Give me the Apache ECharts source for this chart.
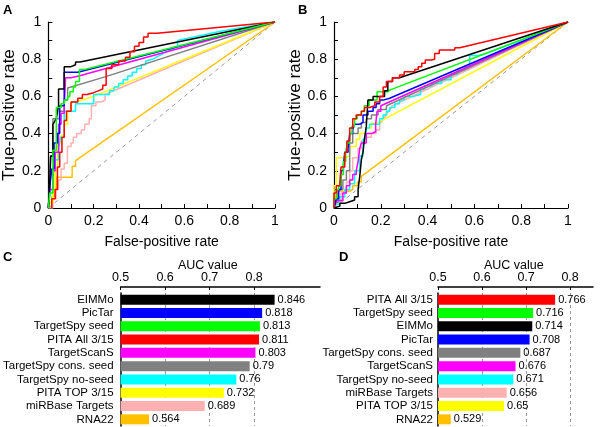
<!DOCTYPE html>
<html>
<head>
<meta charset="utf-8">
<script src="https://cdn.jsdelivr.net/npm/echarts@6.0.0/dist/echarts.min.js"></script>
<style>
  html, body { margin: 0; padding: 0; background: #fff; }
  #chart { width: 600px; height: 427px; }
</style>
</head>
<body>
<div id="chart"></div>
<script>
'use strict';

// Colours per prediction method (same in all four panels)
const methodColors = {
  'EIMMo': '#000000',
  'PicTar': '#0000ff',
  'TargetSpy seed': '#00ff00',
  'PITA All 3/15': '#ff0000',
  'TargetScanS': '#ff00ff',
  'TargetSpy cons. seed': '#808080',
  'TargetSpy no-seed': '#00ffff',
  'PITA TOP 3/15': '#ffff00',
  'miRBase Targets': '#ffb0b0',
  'RNA22': '#ffc000',
};

// --- panel C / D : AUC bars ---
const aucNamesC = ['EIMMo', 'PicTar', 'TargetSpy seed', 'PITA All 3/15', 'TargetScanS',
  'TargetSpy cons. seed', 'TargetSpy no-seed', 'PITA TOP 3/15', 'miRBase Targets', 'RNA22'];
const aucValuesC = [0.846, 0.818, 0.813, 0.811, 0.803, 0.79, 0.76, 0.732, 0.689, 0.564];
const aucNamesD = ['PITA All 3/15', 'TargetSpy seed', 'EIMMo', 'PicTar', 'TargetSpy cons. seed',
  'TargetScanS', 'TargetSpy no-seed', 'miRBase Targets', 'PITA TOP 3/15', 'RNA22'];
const aucValuesD = [0.766, 0.716, 0.714, 0.708, 0.687, 0.676, 0.671, 0.656, 0.65, 0.529];
const aucTicks = [0.5, 0.6, 0.7, 0.8];
const aucGridLines = [0.6, 0.7, 0.8];

// --- panel A : ROC curves [FPR, TPR] ---
const rocA_EIMMo = [[0, 0], [0.005, 0.1], [0.01, 0.28], [0.02, 0.28], [0.02, 0.45], [0.035, 0.48], [0.045, 0.55],
  [0.045, 0.64], [0.07, 0.64], [0.07, 0.76], [0.1, 0.76], [0.1, 0.77], [0.12, 0.77], [0.12, 0.785], [0.14, 0.785], [1, 1]];
const rocA_PicTar = [[0, 0], [0.005, 0.1], [0.015, 0.21], [0.025, 0.21], [0.025, 0.35], [0.04, 0.35], [0.04, 0.4],
  [0.05, 0.4], [0.05, 0.55], [0.07, 0.55], [0.07, 0.73], [0.13, 0.73], [1, 1]];
const rocA_TSpySeed = [[0, 0], [0.006, 0.08], [0.02, 0.08], [0.02, 0.31], [0.035, 0.31], [0.035, 0.54], [0.056, 0.54],
  [0.056, 0.56], [0.07, 0.56], [0.07, 0.58], [0.085, 0.58], [0.085, 0.6], [0.095, 0.6], [0.095, 0.625], [0.11, 0.625],
  [0.11, 0.65], [0.12, 0.65], [0.12, 0.68], [0.137, 0.68], [0.137, 0.745], [0.16, 0.745], [1, 1]];
const rocA_PitaAll = [[0.015, 0], [0.015, 0.05], [0.03, 0.05], [0.03, 0.1], [0.04, 0.1], [0.04, 0.22], [0.05, 0.22],
  [0.05, 0.3], [0.06, 0.3], [0.06, 0.38], [0.07, 0.38], [0.07, 0.47], [0.08, 0.47], [0.08, 0.52], [0.1, 0.52],
  [0.1, 0.57], [0.13, 0.57], [0.13, 0.59], [0.15, 0.59], [0.15, 0.61], [0.17, 0.61], [0.17, 0.62], [0.2, 0.62],
  [0.2, 0.63], [0.22, 0.63], [0.22, 0.64], [0.24, 0.64], [0.24, 0.66], [0.255, 0.66], [0.255, 0.75], [0.28, 0.75],
  [0.28, 0.77], [0.31, 0.77], [0.31, 0.79], [0.34, 0.79], [0.34, 0.81], [0.36, 0.81], [0.36, 0.84], [0.38, 0.84],
  [0.38, 0.87], [0.4, 0.87], [0.4, 0.89], [0.42, 0.89], [0.42, 0.92], [0.44, 0.92], [0.44, 0.94], [0.48, 0.94], [1, 1]];
const rocA_TScanS = [[0, 0], [0.005, 0.1], [0.02, 0.1], [0.02, 0.2], [0.03, 0.2], [0.03, 0.3], [0.045, 0.3],
  [0.045, 0.45], [0.056, 0.45], [0.056, 0.51], [0.07, 0.51], [0.07, 0.545], [0.076, 0.545], [0.076, 0.7],
  [0.1, 0.7], [0.1, 0.71], [0.134, 0.71], [1, 1]];
const rocA_TSpyCons = [[0, 0], [0.005, 0.07], [0.01, 0.28], [0.02, 0.28], [0.02, 0.48], [0.049, 0.48], [0.049, 0.52],
  [0.07, 0.52], [0.07, 0.58], [0.085, 0.58], [0.085, 0.645], [0.25, 0.705], [1, 1]];
const rocA_TSpyNoSeed = [[0, 0], [0.005, 0.05], [0.01, 0.05], [0.01, 0.1], [0.02, 0.1], [0.02, 0.22], [0.03, 0.22],
  [0.03, 0.26], [0.045, 0.26], [0.045, 0.31], [0.053, 0.31], [0.053, 0.38], [0.07, 0.38], [0.07, 0.52], [0.12, 0.52],
  [0.12, 0.56], [0.2, 0.56], [0.2, 0.61], [0.25, 0.61], [0.27, 0.61], [0.27, 0.63], [0.29, 0.63], [0.29, 0.65],
  [0.31, 0.65], [0.31, 0.67], [0.33, 0.67], [0.33, 0.69], [0.35, 0.69], [0.35, 0.71], [0.37, 0.71], [0.37, 0.73],
  [0.39, 0.73], [0.39, 0.75], [0.41, 0.75], [0.41, 0.77], [0.43, 0.77], [0.43, 0.79], [0.46, 0.8], [0.57, 0.87],
  [0.57, 0.9], [0.76, 0.95], [0.76, 0.96], [1, 1]];
const rocA_PitaTop = [[0, 0], [0.006, 0.03], [0.02, 0.03], [0.02, 0.1], [0.03, 0.1], [0.03, 0.2], [0.04, 0.2],
  [0.04, 0.35], [0.056, 0.35], [0.056, 0.39], [0.07, 0.39], [0.07, 0.45], [0.085, 0.45], [0.085, 0.52], [0.1, 0.52],
  [0.1, 0.57], [0.12, 0.57], [0.12, 0.58], [0.2, 0.6], [1, 1]];
const rocA_miRBase = [[0, 0], [0.02, 0], [0.02, 0.05], [0.034, 0.05], [0.034, 0.1], [0.045, 0.1], [0.045, 0.15],
  [0.056, 0.15], [0.056, 0.21], [0.07, 0.21], [0.07, 0.24], [0.084, 0.24], [0.084, 0.33], [0.1, 0.33], [0.1, 0.35],
  [0.11, 0.35], [0.11, 0.38], [0.125, 0.38], [0.125, 0.4], [0.145, 0.4], [0.145, 0.42], [0.16, 0.42], [0.16, 0.45],
  [0.18, 0.45], [0.18, 0.48], [0.19, 0.48], [0.19, 0.55], [0.21, 0.55], [0.21, 0.57], [0.235, 0.57], [0.235, 0.58],
  [0.25, 0.58], [0.25, 0.61], [1, 1]];
const rocA_RNA22 = [[0, 0], [0.006, 0.03], [0.015, 0.03], [0.015, 0.06], [0.025, 0.06], [0.025, 0.1], [0.035, 0.1],
  [0.035, 0.165], [0.105, 0.165], [0.105, 0.225], [0.12, 0.225], [0.12, 0.255], [1, 1]];

// --- panel B : ROC curves [FPR, TPR] ---
const rocB_EIMMo = [[0, 0], [0.005, 0], [0.005, 0.01], [0.025, 0.01], [0.025, 0.025], [0.046, 0.025], [0.046, 0.034],
  [0.067, 0.034], [0.067, 0.043], [0.088, 0.043], [0.088, 0.06], [0.103, 0.06], [0.103, 0.1], [0.11, 0.1],
  [0.11, 0.17], [0.117, 0.17], [0.117, 0.26], [0.124, 0.26], [0.124, 0.3], [0.13, 0.3], [0.13, 0.37], [0.138, 0.37],
  [0.138, 0.44], [0.145, 0.44], [0.145, 0.58], [0.167, 0.58], [0.167, 0.6], [0.216, 0.6], [0.216, 0.63], [0.23, 0.63],
  [0.23, 0.68], [0.25, 0.68], [0.25, 0.7], [0.28, 0.7], [0.28, 0.71], [1, 1]];
const rocB_PicTar = [[0, 0], [0.01, 0.05], [0.02, 0.05], [0.02, 0.1], [0.03, 0.1], [0.03, 0.2], [0.04, 0.2],
  [0.04, 0.23], [0.046, 0.23], [0.046, 0.3], [0.06, 0.3], [0.06, 0.32], [0.067, 0.32], [0.067, 0.4], [0.08, 0.4],
  [0.08, 0.42], [0.088, 0.42], [0.088, 0.45], [0.11, 0.45], [0.11, 0.46], [0.124, 0.46], [0.124, 0.5], [0.145, 0.5],
  [0.145, 0.52], [0.167, 0.52], [0.167, 0.54], [0.18, 0.54], [0.18, 0.56], [0.195, 0.56], [0.195, 0.58], [0.21, 0.58],
  [0.21, 0.59], [0.238, 0.59], [0.238, 0.6], [1, 1]];
const rocB_TSpySeed = [[0, 0], [0, 0.05], [0.01, 0.05], [0.01, 0.1], [0.02, 0.1], [0.02, 0.12], [0.03, 0.12],
  [0.03, 0.18], [0.04, 0.18], [0.04, 0.25], [0.05, 0.25], [0.05, 0.3], [0.057, 0.3], [0.057, 0.35], [0.067, 0.35],
  [0.067, 0.4], [0.077, 0.4], [0.077, 0.44], [0.088, 0.44], [0.088, 0.48], [0.1, 0.48], [0.1, 0.5], [0.117, 0.5],
  [0.117, 0.52], [0.13, 0.52], [0.13, 0.55], [0.15, 0.55], [0.15, 0.58], [0.184, 0.58], [0.184, 0.625], [0.23, 0.625],
  [0.23, 0.635], [0.24, 0.635], [1, 1]];
const rocB_PitaAll = [[0, 0], [0, 0.08], [0.01, 0.08], [0.01, 0.12], [0.025, 0.12], [0.025, 0.14], [0.03, 0.14],
  [0.03, 0.22], [0.046, 0.22], [0.046, 0.3], [0.055, 0.3], [0.055, 0.36], [0.067, 0.36], [0.067, 0.43], [0.08, 0.43],
  [0.08, 0.48], [0.095, 0.48], [0.095, 0.5], [0.117, 0.5], [0.117, 0.52], [0.13, 0.52], [0.13, 0.54], [0.152, 0.54],
  [0.152, 0.55], [0.174, 0.55], [0.174, 0.57], [0.195, 0.57], [0.195, 0.6], [0.21, 0.6], [0.21, 0.65], [0.224, 0.65],
  [0.224, 0.68], [0.25, 0.68], [0.25, 0.7], [0.28, 0.7], [0.28, 0.715], [0.3, 0.715], [0.3, 0.733], [0.345, 0.733],
  [0.345, 0.745], [0.36, 0.745], [0.36, 0.76], [0.375, 0.76], [0.375, 0.778], [0.39, 0.778], [0.39, 0.796],
  [0.416, 0.796], [0.416, 0.8], [0.43, 0.8], [0.43, 0.83], [0.45, 0.83], [0.45, 0.85], [0.516, 0.85], [0.516, 0.862],
  [0.537, 0.862], [0.537, 0.867], [1, 1]];
const rocB_TScanS = [[0, 0], [0.01, 0.04], [0.038, 0.04], [0.038, 0.08], [0.053, 0.08], [0.053, 0.12], [0.067, 0.12],
  [0.067, 0.15], [0.08, 0.15], [0.08, 0.18], [0.095, 0.18], [0.095, 0.2], [0.103, 0.2], [0.103, 0.25], [0.11, 0.25],
  [0.11, 0.32], [0.117, 0.32], [0.117, 0.35], [0.138, 0.35], [0.138, 0.4], [0.16, 0.4], [0.16, 0.41], [0.178, 0.41],
  [0.178, 0.45], [0.184, 0.45], [0.184, 0.52], [0.2, 0.52], [0.2, 0.55], [1, 1]];
const rocB_TSpyCons = [[0, 0], [0.003, 0.03], [0.017, 0.03], [0.017, 0.1], [0.038, 0.1], [0.038, 0.15], [0.053, 0.15],
  [0.053, 0.2], [0.067, 0.2], [0.067, 0.35], [0.08, 0.35], [0.08, 0.4], [0.103, 0.4], [0.103, 0.43], [0.117, 0.43],
  [0.117, 0.46], [0.138, 0.46], [0.138, 0.48], [0.16, 0.48], [0.16, 0.5], [0.188, 0.5], [0.188, 0.53], [0.224, 0.53],
  [0.224, 0.55], [1, 1]];
const rocB_TSpyNoSeed = [[0, 0], [0.003, 0.02], [0.024, 0.02], [0.024, 0.06], [0.046, 0.06], [0.046, 0.1], [0.067, 0.1],
  [0.067, 0.13], [0.088, 0.13], [0.088, 0.2], [0.11, 0.2], [0.11, 0.28], [0.124, 0.28], [0.124, 0.37], [0.138, 0.37],
  [0.138, 0.43], [0.152, 0.43], [0.152, 0.45], [0.195, 0.45], [0.195, 0.48], [0.21, 0.48], [0.21, 0.5], [0.224, 0.5],
  [0.224, 0.52], [0.238, 0.52], [0.238, 0.54], [0.26, 0.54], [0.26, 0.56], [0.28, 0.56], [0.28, 0.58], [0.3, 0.58],
  [0.3, 0.6], [0.34, 0.6], [0.34, 0.61], [0.37, 0.61], [0.37, 0.64], [0.387, 0.64], [0.387, 0.656], [0.42, 0.656],
  [0.42, 0.67], [0.46, 0.67], [0.46, 0.69], [0.5, 0.69], [0.5, 0.72], [0.53, 0.72], [0.53, 0.74], [0.56, 0.74],
  [0.56, 0.76], [0.58, 0.76], [0.58, 0.82], [0.62, 0.82], [0.62, 0.83], [0.65, 0.83], [0.65, 0.84], [1, 1]];
const rocB_PitaTop = [[0, 0], [0, 0.12], [0.01, 0.12], [0.01, 0.27], [0.046, 0.27], [0.046, 0.28], [0.067, 0.28],
  [0.067, 0.33], [0.095, 0.33], [0.095, 0.37], [0.11, 0.37], [0.11, 0.4], [0.138, 0.4], [0.138, 0.43], [0.16, 0.43],
  [0.16, 0.455], [0.18, 0.455], [0.18, 0.46], [1, 1]];
const rocB_miRBase = [[0, 0], [0.01, 0.03], [0.03, 0.03], [0.03, 0.08], [0.053, 0.08], [0.053, 0.14], [0.067, 0.14],
  [0.067, 0.2], [0.08, 0.2], [0.08, 0.27], [0.103, 0.27], [0.103, 0.32], [0.117, 0.32], [0.117, 0.36], [0.138, 0.36],
  [0.138, 0.38], [0.16, 0.38], [0.16, 0.4], [0.18, 0.4], [0.18, 0.42], [0.195, 0.42], [0.195, 0.45], [0.25, 0.55], [1, 1]];
const rocB_RNA22 = [[0, 0], [0.005, 0.06], [0.015, 0.06], [0.015, 0.09], [0.067, 0.09], [0.067, 0.1], [0.08, 0.1],
  [0.08, 0.12], [0.1, 0.12], [0.1, 0.14], [0.117, 0.14], [0.117, 0.17], [1, 1]];

const rocChance = [[0, 0], [1, 1]];

// drawing order: first = bottom
const rocCurvesA = [
  ['RNA22', rocA_RNA22], ['miRBase Targets', rocA_miRBase], ['PITA TOP 3/15', rocA_PitaTop],
  ['TargetSpy no-seed', rocA_TSpyNoSeed], ['TargetSpy cons. seed', rocA_TSpyCons], ['TargetScanS', rocA_TScanS],
  ['PicTar', rocA_PicTar], ['EIMMo', rocA_EIMMo], ['TargetSpy seed', rocA_TSpySeed], ['PITA All 3/15', rocA_PitaAll],
];
const rocCurvesB = [
  ['RNA22', rocB_RNA22], ['miRBase Targets', rocB_miRBase], ['PITA TOP 3/15', rocB_PitaTop],
  ['TargetSpy no-seed', rocB_TSpyNoSeed], ['TargetSpy cons. seed', rocB_TSpyCons], ['TargetScanS', rocB_TScanS],
  ['PicTar', rocB_PicTar], ['TargetSpy seed', rocB_TSpySeed], ['EIMMo', rocB_EIMMo], ['PITA All 3/15', rocB_PitaAll],
];

const FONT = '"Liberation Sans", Arial, sans-serif';

function rocXAxis(gridIndex) {
  return {
    type: 'value', gridIndex, min: 0, max: 1, interval: 0.2,
    name: 'False-positive rate', nameLocation: 'middle', nameGap: 27,
    nameTextStyle: { fontSize: 14, color: '#000', fontFamily: FONT },
    axisLine: { onZero: false, lineStyle: { color: '#000', width: 1.2 } },
    axisTick: { inside: true, length: 4, lineStyle: { color: '#000' } },
    minorTick: { show: true, splitNumber: 2, length: 4, lineStyle: { color: '#000' } },
    axisLabel: { fontSize: 14, color: '#000', margin: 6, fontFamily: FONT },
    splitLine: { show: false },
  };
}

function rocYAxis(gridIndex) {
  return {
    type: 'value', gridIndex, min: 0, max: 1, interval: 0.2,
    name: 'True-positive rate', nameLocation: 'middle', nameGap: 26,
    nameTextStyle: { fontSize: 17, color: '#000', fontFamily: FONT },
    axisLine: { onZero: false, lineStyle: { color: '#000', width: 1.2 } },
    axisTick: { inside: true, length: 4, lineStyle: { color: '#000' } },
    minorTick: { show: true, splitNumber: 2, length: 4, lineStyle: { color: '#000' } },
    axisLabel: { fontSize: 14, color: '#000', margin: 7, fontFamily: FONT },
    splitLine: { show: false },
  };
}

function rocSeries(axisIndex, curves) {
  const out = [{
    type: 'line', xAxisIndex: axisIndex, yAxisIndex: axisIndex, data: rocChance,
    symbol: 'none', silent: true, z: 1,
    lineStyle: { color: '#999', width: 1, type: [4, 4] },
  }];
  curves.forEach(([name, data], k) => {
    out.push({
      type: 'line', name, xAxisIndex: axisIndex, yAxisIndex: axisIndex, data,
      symbol: 'none', z: 2 + k,
      lineStyle: { color: methodColors[name], width: 1.5 },
    });
  });
  return out;
}

function aucXAxis(gridIndex, max) {
  return {
    type: 'value', gridIndex, position: 'top', offset: 6, min: 0.5, max,
    axisLine: { show: true, onZero: false, lineStyle: { color: '#000', width: 1.5 } },
    axisTick: { show: true, inside: true, length: 3, customValues: aucTicks, lineStyle: { color: '#000' } },
    axisLabel: { customValues: aucTicks, fontSize: 12.5, color: '#000', margin: 3, fontFamily: FONT,
      formatter: (v) => Number(v).toFixed(1) },
    splitLine: { show: false },
  };
}

function aucYAxis(gridIndex, names, margin) {
  return {
    type: 'category', gridIndex, inverse: true, data: names,
    axisLine: { onZero: false, lineStyle: { color: '#000', width: 1.5 } },
    axisTick: { show: false },
    axisLabel: { interval: 0, fontSize: 11.5, color: '#000', margin, fontFamily: FONT },
  };
}

function aucSeries(axisIndex, names, values) {
  return {
    type: 'bar', xAxisIndex: axisIndex, yAxisIndex: axisIndex, barWidth: 10,
    data: values.map((v, k) => ({ value: v, itemStyle: { color: methodColors[names[k]] } })),
    label: { show: true, position: 'right', distance: 3, fontSize: 11, color: '#000', fontFamily: FONT,
      formatter: (p) => String(p.value) },
    markLine: {
      silent: true, symbol: 'none', z: 1, label: { show: false },
      lineStyle: { color: '#999', width: 1, type: [3, 3] },
      data: aucGridLines.map((x) => ({ xAxis: x })),
    },
  };
}

const letterStyle = { fontSize: 13, fontWeight: 'bold', color: '#000', fontFamily: FONT };
const aucNameStyle = { fontSize: 12.5, fontWeight: 'normal', color: '#000', fontFamily: FONT };

const chart = echarts.init(document.getElementById('chart'), null, { renderer: 'canvas' });
chart.setOption({
  animation: false,
  backgroundColor: '#fff',
  title: [
    { text: 'A', left: 3, top: 4, padding: 0, textStyle: letterStyle },
    { text: 'B', left: 298, top: 4, padding: 0, textStyle: letterStyle },
    { text: 'C', left: 3, top: 251, padding: 0, textStyle: letterStyle },
    { text: 'D', left: 339, top: 251, padding: 0, textStyle: letterStyle },
    { text: 'AUC value', left: 178, top: 259, padding: 0, textStyle: aucNameStyle },
    { text: 'AUC value', left: 484, top: 259, padding: 0, textStyle: aucNameStyle },
  ],
  grid: [
    { left: 42, top: 22, width: 233, height: 186 },
    { left: 334, top: 22, width: 234, height: 186 },
    { left: 120, top: 293, width: 200, height: 133 },
    { left: 438, top: 293, width: 155, height: 133 },
  ],
  xAxis: [rocXAxis(0), rocXAxis(1), aucXAxis(2, 0.948), aucXAxis(3, 0.852)],
  yAxis: [rocYAxis(0), rocYAxis(1), aucYAxis(2, aucNamesC, 7), aucYAxis(3, aucNamesD, 5)],
  series: [
    ...rocSeries(0, rocCurvesA),
    ...rocSeries(1, rocCurvesB),
    aucSeries(2, aucNamesC, aucValuesC),
    aucSeries(3, aucNamesD, aucValuesD),
  ],
});
</script>
</body>
</html>
